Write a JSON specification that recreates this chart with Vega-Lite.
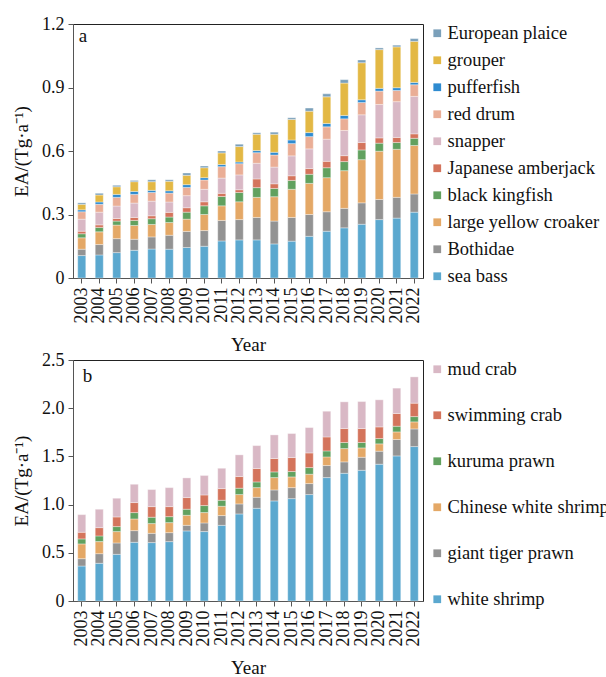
{
"$schema": "https://vega.github.io/schema/vega-lite/v6.json",
"padding": {"left": 12, "top": 14, "right": 0, "bottom": 0},
"config": {
 "font": "Liberation Serif",
 "view": {"stroke": "#222", "strokeWidth": 1},
 "text": {"font": "Liberation Serif"},
 "axis": {"grid": false, "labelFont": "Liberation Serif", "titleFont": "Liberation Serif", "labelFontSize": 18, "titleFontSize": 19, "titleFontWeight": "normal", "labelColor": "#111", "titleColor": "#111", "domainColor": "#555", "tickColor": "#555", "tickSize": 5, "labelPadding": 4},
 "legend": {"labelFont": "Liberation Serif", "symbolType": "square", "symbolSize": 60, "symbolStrokeWidth": 0, "labelFontSize": 18.5, "labelColor": "#111", "offset": 5, "padding": 0, "labelOffset": 1, "labelLimit": 300, "title": null}
},
"datasets": {
"a": [
{"year":"2003","species":"sea bass","value":0.106},{"year":"2003","species":"Bothidae","value":0.030},{"year":"2003","species":"large yellow croaker","value":0.054},{"year":"2003","species":"black kingfish","value":0.019},{"year":"2003","species":"Japanese amberjack","value":0.012},{"year":"2003","species":"snapper","value":0.057},{"year":"2003","species":"red drum","value":0.035},{"year":"2003","species":"pufferfish","value":0.009},{"year":"2003","species":"grouper","value":0.026},{"year":"2003","species":"European plaice","value":0.007},
{"year":"2004","species":"sea bass","value":0.109},{"year":"2004","species":"Bothidae","value":0.049},{"year":"2004","species":"large yellow croaker","value":0.060},{"year":"2004","species":"black kingfish","value":0.021},{"year":"2004","species":"Japanese amberjack","value":0.012},{"year":"2004","species":"snapper","value":0.060},{"year":"2004","species":"red drum","value":0.037},{"year":"2004","species":"pufferfish","value":0.011},{"year":"2004","species":"grouper","value":0.033},{"year":"2004","species":"European plaice","value":0.008},
{"year":"2005","species":"sea bass","value":0.120},{"year":"2005","species":"Bothidae","value":0.066},{"year":"2005","species":"large yellow croaker","value":0.064},{"year":"2005","species":"black kingfish","value":0.019},{"year":"2005","species":"Japanese amberjack","value":0.012},{"year":"2005","species":"snapper","value":0.059},{"year":"2005","species":"red drum","value":0.041},{"year":"2005","species":"pufferfish","value":0.014},{"year":"2005","species":"grouper","value":0.036},{"year":"2005","species":"European plaice","value":0.007},
{"year":"2006","species":"sea bass","value":0.131},{"year":"2006","species":"Bothidae","value":0.052},{"year":"2006","species":"large yellow croaker","value":0.065},{"year":"2006","species":"black kingfish","value":0.024},{"year":"2006","species":"Japanese amberjack","value":0.014},{"year":"2006","species":"snapper","value":0.068},{"year":"2006","species":"red drum","value":0.041},{"year":"2006","species":"pufferfish","value":0.014},{"year":"2006","species":"grouper","value":0.046},{"year":"2006","species":"European plaice","value":0.006},
{"year":"2007","species":"sea bass","value":0.137},{"year":"2007","species":"Bothidae","value":0.057},{"year":"2007","species":"large yellow croaker","value":0.059},{"year":"2007","species":"black kingfish","value":0.027},{"year":"2007","species":"Japanese amberjack","value":0.014},{"year":"2007","species":"snapper","value":0.069},{"year":"2007","species":"red drum","value":0.041},{"year":"2007","species":"pufferfish","value":0.010},{"year":"2007","species":"grouper","value":0.041},{"year":"2007","species":"European plaice","value":0.009},
{"year":"2008","species":"sea bass","value":0.136},{"year":"2008","species":"Bothidae","value":0.066},{"year":"2008","species":"large yellow croaker","value":0.060},{"year":"2008","species":"black kingfish","value":0.026},{"year":"2008","species":"Japanese amberjack","value":0.022},{"year":"2008","species":"snapper","value":0.049},{"year":"2008","species":"red drum","value":0.042},{"year":"2008","species":"pufferfish","value":0.011},{"year":"2008","species":"grouper","value":0.045},{"year":"2008","species":"European plaice","value":0.007},
{"year":"2009","species":"sea bass","value":0.144},{"year":"2009","species":"Bothidae","value":0.076},{"year":"2009","species":"large yellow croaker","value":0.058},{"year":"2009","species":"black kingfish","value":0.033},{"year":"2009","species":"Japanese amberjack","value":0.021},{"year":"2009","species":"snapper","value":0.057},{"year":"2009","species":"red drum","value":0.039},{"year":"2009","species":"pufferfish","value":0.013},{"year":"2009","species":"grouper","value":0.044},{"year":"2009","species":"European plaice","value":0.011},
{"year":"2010","species":"sea bass","value":0.150},{"year":"2010","species":"Bothidae","value":0.074},{"year":"2010","species":"large yellow croaker","value":0.076},{"year":"2010","species":"black kingfish","value":0.041},{"year":"2010","species":"Japanese amberjack","value":0.019},{"year":"2010","species":"snapper","value":0.059},{"year":"2010","species":"red drum","value":0.044},{"year":"2010","species":"pufferfish","value":0.011},{"year":"2010","species":"grouper","value":0.047},{"year":"2010","species":"European plaice","value":0.008},
{"year":"2011","species":"sea bass","value":0.175},{"year":"2011","species":"Bothidae","value":0.097},{"year":"2011","species":"large yellow croaker","value":0.069},{"year":"2011","species":"black kingfish","value":0.044},{"year":"2011","species":"Japanese amberjack","value":0.015},{"year":"2011","species":"snapper","value":0.072},{"year":"2011","species":"red drum","value":0.054},{"year":"2011","species":"pufferfish","value":0.010},{"year":"2011","species":"grouper","value":0.055},{"year":"2011","species":"European plaice","value":0.009},
{"year":"2012","species":"sea bass","value":0.180},{"year":"2012","species":"Bothidae","value":0.096},{"year":"2012","species":"large yellow croaker","value":0.084},{"year":"2012","species":"black kingfish","value":0.044},{"year":"2012","species":"Japanese amberjack","value":0.013},{"year":"2012","species":"snapper","value":0.070},{"year":"2012","species":"red drum","value":0.053},{"year":"2012","species":"pufferfish","value":0.008},{"year":"2012","species":"grouper","value":0.073},{"year":"2012","species":"European plaice","value":0.011},
{"year":"2013","species":"sea bass","value":0.180},{"year":"2013","species":"Bothidae","value":0.106},{"year":"2013","species":"large yellow croaker","value":0.095},{"year":"2013","species":"black kingfish","value":0.046},{"year":"2013","species":"Japanese amberjack","value":0.041},{"year":"2013","species":"snapper","value":0.074},{"year":"2013","species":"red drum","value":0.050},{"year":"2013","species":"pufferfish","value":0.010},{"year":"2013","species":"grouper","value":0.077},{"year":"2013","species":"European plaice","value":0.007},
{"year":"2014","species":"sea bass","value":0.161},{"year":"2014","species":"Bothidae","value":0.108},{"year":"2014","species":"large yellow croaker","value":0.115},{"year":"2014","species":"black kingfish","value":0.039},{"year":"2014","species":"Japanese amberjack","value":0.022},{"year":"2014","species":"snapper","value":0.079},{"year":"2014","species":"red drum","value":0.057},{"year":"2014","species":"pufferfish","value":0.013},{"year":"2014","species":"grouper","value":0.085},{"year":"2014","species":"European plaice","value":0.010},
{"year":"2015","species":"sea bass","value":0.174},{"year":"2015","species":"Bothidae","value":0.112},{"year":"2015","species":"large yellow croaker","value":0.133},{"year":"2015","species":"black kingfish","value":0.042},{"year":"2015","species":"Japanese amberjack","value":0.022},{"year":"2015","species":"snapper","value":0.094},{"year":"2015","species":"red drum","value":0.058},{"year":"2015","species":"pufferfish","value":0.017},{"year":"2015","species":"grouper","value":0.097},{"year":"2015","species":"European plaice","value":0.008},
{"year":"2016","species":"sea bass","value":0.197},{"year":"2016","species":"Bothidae","value":0.103},{"year":"2016","species":"large yellow croaker","value":0.147},{"year":"2016","species":"black kingfish","value":0.043},{"year":"2016","species":"Japanese amberjack","value":0.027},{"year":"2016","species":"snapper","value":0.093},{"year":"2016","species":"red drum","value":0.058},{"year":"2016","species":"pufferfish","value":0.019},{"year":"2016","species":"grouper","value":0.101},{"year":"2016","species":"European plaice","value":0.015},
{"year":"2017","species":"sea bass","value":0.221},{"year":"2017","species":"Bothidae","value":0.092},{"year":"2017","species":"large yellow croaker","value":0.161},{"year":"2017","species":"black kingfish","value":0.047},{"year":"2017","species":"Japanese amberjack","value":0.030},{"year":"2017","species":"snapper","value":0.105},{"year":"2017","species":"red drum","value":0.058},{"year":"2017","species":"pufferfish","value":0.016},{"year":"2017","species":"grouper","value":0.126},{"year":"2017","species":"European plaice","value":0.014},
{"year":"2018","species":"sea bass","value":0.237},{"year":"2018","species":"Bothidae","value":0.092},{"year":"2018","species":"large yellow croaker","value":0.178},{"year":"2018","species":"black kingfish","value":0.043},{"year":"2018","species":"Japanese amberjack","value":0.028},{"year":"2018","species":"snapper","value":0.119},{"year":"2018","species":"red drum","value":0.055},{"year":"2018","species":"pufferfish","value":0.016},{"year":"2018","species":"grouper","value":0.153},{"year":"2018","species":"European plaice","value":0.016},
{"year":"2019","species":"sea bass","value":0.254},{"year":"2019","species":"Bothidae","value":0.101},{"year":"2019","species":"large yellow croaker","value":0.204},{"year":"2019","species":"black kingfish","value":0.046},{"year":"2019","species":"Japanese amberjack","value":0.035},{"year":"2019","species":"snapper","value":0.131},{"year":"2019","species":"red drum","value":0.058},{"year":"2019","species":"pufferfish","value":0.013},{"year":"2019","species":"grouper","value":0.175},{"year":"2019","species":"European plaice","value":0.013},
{"year":"2020","species":"sea bass","value":0.276},{"year":"2020","species":"Bothidae","value":0.095},{"year":"2020","species":"large yellow croaker","value":0.228},{"year":"2020","species":"black kingfish","value":0.038},{"year":"2020","species":"Japanese amberjack","value":0.025},{"year":"2020","species":"snapper","value":0.158},{"year":"2020","species":"red drum","value":0.063},{"year":"2020","species":"pufferfish","value":0.013},{"year":"2020","species":"grouper","value":0.183},{"year":"2020","species":"European plaice","value":0.008},
{"year":"2021","species":"sea bass","value":0.283},{"year":"2021","species":"Bothidae","value":0.098},{"year":"2021","species":"large yellow croaker","value":0.227},{"year":"2021","species":"black kingfish","value":0.032},{"year":"2021","species":"Japanese amberjack","value":0.024},{"year":"2021","species":"snapper","value":0.169},{"year":"2021","species":"red drum","value":0.053},{"year":"2021","species":"pufferfish","value":0.013},{"year":"2021","species":"grouper","value":0.193},{"year":"2021","species":"European plaice","value":0.008},
{"year":"2022","species":"sea bass","value":0.311},{"year":"2022","species":"Bothidae","value":0.086},{"year":"2022","species":"large yellow croaker","value":0.229},{"year":"2022","species":"black kingfish","value":0.034},{"year":"2022","species":"Japanese amberjack","value":0.021},{"year":"2022","species":"snapper","value":0.177},{"year":"2022","species":"red drum","value":0.055},{"year":"2022","species":"pufferfish","value":0.011},{"year":"2022","species":"grouper","value":0.194},{"year":"2022","species":"European plaice","value":0.013}
],
"b": [
{"year":"2003","species":"white shrimp","value":0.363},{"year":"2003","species":"giant tiger prawn","value":0.076},{"year":"2003","species":"Chinese white shrimp","value":0.153},{"year":"2003","species":"kuruma prawn","value":0.052},{"year":"2003","species":"swimming crab","value":0.069},{"year":"2003","species":"mud crab","value":0.183},
{"year":"2004","species":"white shrimp","value":0.391},{"year":"2004","species":"giant tiger prawn","value":0.100},{"year":"2004","species":"Chinese white shrimp","value":0.125},{"year":"2004","species":"kuruma prawn","value":0.059},{"year":"2004","species":"swimming crab","value":0.086},{"year":"2004","species":"mud crab","value":0.191},
{"year":"2005","species":"white shrimp","value":0.484},{"year":"2005","species":"giant tiger prawn","value":0.118},{"year":"2005","species":"Chinese white shrimp","value":0.118},{"year":"2005","species":"kuruma prawn","value":0.052},{"year":"2005","species":"swimming crab","value":0.100},{"year":"2005","species":"mud crab","value":0.194},
{"year":"2006","species":"white shrimp","value":0.609},{"year":"2006","species":"giant tiger prawn","value":0.121},{"year":"2006","species":"Chinese white shrimp","value":0.121},{"year":"2006","species":"kuruma prawn","value":0.066},{"year":"2006","species":"swimming crab","value":0.104},{"year":"2006","species":"mud crab","value":0.190},
{"year":"2007","species":"white shrimp","value":0.606},{"year":"2007","species":"giant tiger prawn","value":0.096},{"year":"2007","species":"Chinese white shrimp","value":0.101},{"year":"2007","species":"kuruma prawn","value":0.066},{"year":"2007","species":"swimming crab","value":0.110},{"year":"2007","species":"mud crab","value":0.177},
{"year":"2008","species":"white shrimp","value":0.616},{"year":"2008","species":"giant tiger prawn","value":0.093},{"year":"2008","species":"Chinese white shrimp","value":0.104},{"year":"2008","species":"kuruma prawn","value":0.062},{"year":"2008","species":"swimming crab","value":0.104},{"year":"2008","species":"mud crab","value":0.197},
{"year":"2009","species":"white shrimp","value":0.727},{"year":"2009","species":"giant tiger prawn","value":0.058},{"year":"2009","species":"Chinese white shrimp","value":0.104},{"year":"2009","species":"kuruma prawn","value":0.063},{"year":"2009","species":"swimming crab","value":0.121},{"year":"2009","species":"mud crab","value":0.204},
{"year":"2010","species":"white shrimp","value":0.720},{"year":"2010","species":"giant tiger prawn","value":0.090},{"year":"2010","species":"Chinese white shrimp","value":0.107},{"year":"2010","species":"kuruma prawn","value":0.073},{"year":"2010","species":"swimming crab","value":0.110},{"year":"2010","species":"mud crab","value":0.201},
{"year":"2011","species":"white shrimp","value":0.785},{"year":"2011","species":"giant tiger prawn","value":0.101},{"year":"2011","species":"Chinese white shrimp","value":0.097},{"year":"2011","species":"kuruma prawn","value":0.062},{"year":"2011","species":"swimming crab","value":0.121},{"year":"2011","species":"mud crab","value":0.211},
{"year":"2012","species":"white shrimp","value":0.903},{"year":"2012","species":"giant tiger prawn","value":0.104},{"year":"2012","species":"Chinese white shrimp","value":0.097},{"year":"2012","species":"kuruma prawn","value":0.066},{"year":"2012","species":"swimming crab","value":0.121},{"year":"2012","species":"mud crab","value":0.225},
{"year":"2013","species":"white shrimp","value":0.962},{"year":"2013","species":"giant tiger prawn","value":0.114},{"year":"2013","species":"Chinese white shrimp","value":0.100},{"year":"2013","species":"kuruma prawn","value":0.059},{"year":"2013","species":"swimming crab","value":0.139},{"year":"2013","species":"mud crab","value":0.238},
{"year":"2014","species":"white shrimp","value":1.038},{"year":"2014","species":"giant tiger prawn","value":0.114},{"year":"2014","species":"Chinese white shrimp","value":0.128},{"year":"2014","species":"kuruma prawn","value":0.059},{"year":"2014","species":"swimming crab","value":0.139},{"year":"2014","species":"mud crab","value":0.245},
{"year":"2015","species":"white shrimp","value":1.062},{"year":"2015","species":"giant tiger prawn","value":0.114},{"year":"2015","species":"Chinese white shrimp","value":0.111},{"year":"2015","species":"kuruma prawn","value":0.056},{"year":"2015","species":"swimming crab","value":0.145},{"year":"2015","species":"mud crab","value":0.249},
{"year":"2016","species":"white shrimp","value":1.104},{"year":"2016","species":"giant tiger prawn","value":0.114},{"year":"2016","species":"Chinese white shrimp","value":0.097},{"year":"2016","species":"kuruma prawn","value":0.069},{"year":"2016","species":"swimming crab","value":0.152},{"year":"2016","species":"mud crab","value":0.263},
{"year":"2017","species":"white shrimp","value":1.280},{"year":"2017","species":"giant tiger prawn","value":0.125},{"year":"2017","species":"Chinese white shrimp","value":0.090},{"year":"2017","species":"kuruma prawn","value":0.062},{"year":"2017","species":"swimming crab","value":0.145},{"year":"2017","species":"mud crab","value":0.267},
{"year":"2018","species":"white shrimp","value":1.325},{"year":"2018","species":"giant tiger prawn","value":0.118},{"year":"2018","species":"Chinese white shrimp","value":0.138},{"year":"2018","species":"kuruma prawn","value":0.063},{"year":"2018","species":"swimming crab","value":0.145},{"year":"2018","species":"mud crab","value":0.277},
{"year":"2019","species":"white shrimp","value":1.356},{"year":"2019","species":"giant tiger prawn","value":0.135},{"year":"2019","species":"Chinese white shrimp","value":0.097},{"year":"2019","species":"kuruma prawn","value":0.056},{"year":"2019","species":"swimming crab","value":0.145},{"year":"2019","species":"mud crab","value":0.280},
{"year":"2020","species":"white shrimp","value":1.419},{"year":"2020","species":"giant tiger prawn","value":0.135},{"year":"2020","species":"Chinese white shrimp","value":0.076},{"year":"2020","species":"kuruma prawn","value":0.055},{"year":"2020","species":"swimming crab","value":0.121},{"year":"2020","species":"mud crab","value":0.281},
{"year":"2021","species":"white shrimp","value":1.505},{"year":"2021","species":"giant tiger prawn","value":0.170},{"year":"2021","species":"Chinese white shrimp","value":0.079},{"year":"2021","species":"kuruma prawn","value":0.059},{"year":"2021","species":"swimming crab","value":0.132},{"year":"2021","species":"mud crab","value":0.263},
{"year":"2022","species":"white shrimp","value":1.602},{"year":"2022","species":"giant tiger prawn","value":0.183},{"year":"2022","species":"Chinese white shrimp","value":0.073},{"year":"2022","species":"kuruma prawn","value":0.055},{"year":"2022","species":"swimming crab","value":0.139},{"year":"2022","species":"mud crab","value":0.273}
]
},
"spacing": 82,
"bounds": "flush",
"resolve": {"scale": {"color": "independent", "x": "independent", "y": "independent"}, "legend": {"color": "independent"}},
"vconcat": [
{
 "width": 350, "height": 254,
 "layer": [
  {
   "data": {"name": "a"},
   "transform": [{"calculate": "indexof(['sea bass', 'Bothidae', 'large yellow croaker', 'black kingfish', 'Japanese amberjack', 'snapper', 'red drum', 'pufferfish', 'grouper', 'European plaice'], datum.species)", "as": "stackRank"}],
   "mark": {"type": "bar", "stroke": "white", "strokeWidth": 0.5, "strokeOpacity": 0.7},
   "encoding": {
    "x": {"field": "year", "type": "ordinal", "title": "Year", "scale": {"paddingInner": 0.54, "paddingOuter": 0.27}, "axis": {"labelAngle": -90, "titlePadding": 12}},
    "y": {"field": "value", "type": "quantitative", "stack": "zero", "scale": {"domain": [0, 1.2], "nice": false}, "axis": {"values": [0, 0.3, 0.6, 0.9, 1.2], "labelExpr": "datum.value == 0 ? '0' : format(datum.value, '.1f')", "title": "EA/(Tg·a⁻¹)", "titlePadding": 10}},
    "order": {"field": "stackRank", "type": "quantitative", "sort": "ascending"},
    "color": {
     "field": "species", "type": "nominal",
     "sort": ["sea bass", "Bothidae", "large yellow croaker", "black kingfish", "Japanese amberjack", "snapper", "red drum", "pufferfish", "grouper", "European plaice"],
     "scale": {"range": ["#5BA8CF", "#939393", "#E4A866", "#61A15F", "#D4745C", "#D9B8C5", "#EAAE96", "#2E8BD0", "#E3B844", "#7BA0BA"]},
     "legend": {"values": ["European plaice", "grouper", "pufferfish", "red drum", "snapper", "Japanese amberjack", "black kingfish", "large yellow croaker", "Bothidae", "sea bass"], "rowPadding": 8}
    }
   }
  },
  {
   "data": {"values": [{"label": "a"}]},
   "mark": {"type": "text", "align": "left", "baseline": "middle", "fontSize": 19, "dx": -3, "color": "#111", "font": "Liberation Serif"},
   "encoding": {"x": {"datum": "2003"}, "y": {"datum": 1.142}, "text": {"field": "label"}}
  }
 ]
},
{
 "width": 350, "height": 241,
 "layer": [
  {
   "data": {"name": "b"},
   "transform": [{"calculate": "indexof(['white shrimp', 'giant tiger prawn', 'Chinese white shrimp', 'kuruma prawn', 'swimming crab', 'mud crab'], datum.species)", "as": "stackRank"}],
   "mark": {"type": "bar", "stroke": "white", "strokeWidth": 0.5, "strokeOpacity": 0.7},
   "encoding": {
    "x": {"field": "year", "type": "ordinal", "title": "Year", "scale": {"paddingInner": 0.54, "paddingOuter": 0.27}, "axis": {"labelAngle": -90, "titlePadding": 12}},
    "y": {"field": "value", "type": "quantitative", "stack": "zero", "scale": {"domain": [0, 2.5], "nice": false}, "axis": {"values": [0, 0.5, 1, 1.5, 2, 2.5], "labelExpr": "datum.value == 0 ? '0' : format(datum.value, '.1f')", "title": "EA/(Tg·a⁻¹)", "titlePadding": 10}},
    "order": {"field": "stackRank", "type": "quantitative", "sort": "ascending"},
    "color": {
     "field": "species", "type": "nominal",
     "sort": ["white shrimp", "giant tiger prawn", "Chinese white shrimp", "kuruma prawn", "swimming crab", "mud crab"],
     "scale": {"range": ["#5BA8CF", "#939393", "#E4A866", "#61A15F", "#D4745C", "#D9B8C5"]},
     "legend": {"values": ["mud crab", "swimming crab", "kuruma prawn", "Chinese white shrimp", "giant tiger prawn", "white shrimp"], "rowPadding": 27}
    }
   }
  },
  {
   "data": {"values": [{"label": "b"}]},
   "mark": {"type": "text", "align": "left", "baseline": "middle", "fontSize": 19, "dx": 1, "color": "#111", "font": "Liberation Serif"},
   "encoding": {"x": {"datum": "2003"}, "y": {"datum": 2.336}, "text": {"field": "label"}}
  }
 ]
}
]
}
